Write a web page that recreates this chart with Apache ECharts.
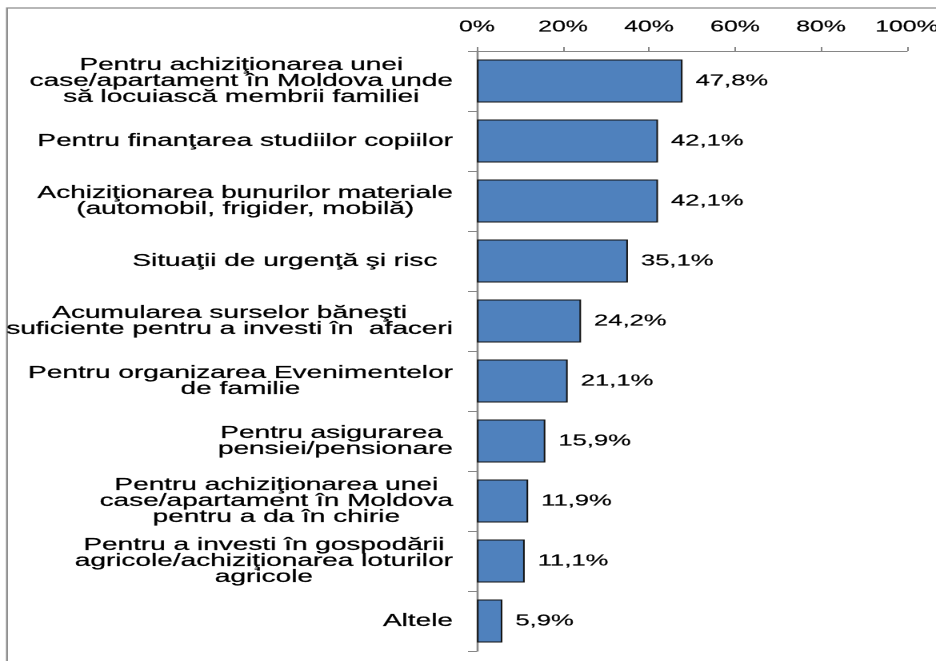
<!DOCTYPE html>
<html>
<head>
<meta charset="utf-8">
<script src="https://cdn.jsdelivr.net/npm/echarts@6/dist/echarts.min.js"></script>
<style>
  html, body { margin: 0; padding: 0; background: #ffffff; overflow: hidden; }
  #wrap { width: 936px; height: 661px; overflow: hidden; position: relative; }
  #main { width: 585px; height: 661px; transform: scaleX(1.6); transform-origin: 0 0; position: absolute; left: 0; top: 0; }
</style>
</head>
<body>
<div id="wrap"><div id="main"></div></div>
<script>
const categories = [
  'Pentru achiziţionarea unei\ncase/apartament în Moldova unde\nsă locuiască membrii familiei',
  'Pentru finanţarea studiilor copiilor',
  'Achiziţionarea bunurilor materiale\n(automobil, frigider, mobilă)',
  'Situaţii de urgenţă şi risc  ',
  'Acumularea surselor băneşti\nsuficiente pentru a investi în  afaceri',
  'Pentru organizarea Evenimentelor\nde familie',
  'Pentru asigurarea \npensiei/pensionare',
  'Pentru achiziţionarea unei\ncase/apartament în Moldova\npentru a da în chirie',
  'Pentru a investi în gospodării\nagricole/achiziţionarea loturilor\nagricole',
  'Altele'
];
const values = [47.8, 42.1, 42.1, 35.1, 24.2, 21.1, 15.9, 11.9, 11.1, 5.9];
const xTicks = [0, 20, 40, 60, 80, 100];

const S = 1.6; // horizontal stretch of the original picture
const FONT = "'Liberation Sans', Arial, sans-serif";
const chart = echarts.init(document.getElementById('main'), null, { renderer: 'canvas', devicePixelRatio: 2 });

chart.setOption({
  animation: false,
  backgroundColor: '#ffffff',
  graphic: [{
    type: 'rect',
    shape: { x: 7 / S, y: 8, width: 3000, height: 3000 },
    style: { fill: 'none', stroke: '#8c8c8c', lineWidth: 1.2 },
    silent: true
  }],
  grid: {
    left: 477 / S, right: 585 - 907 / S, top: 51, bottom: 10,
    containLabel: false, outerBoundsMode: 'none'
  },
  xAxis: {
    type: 'value',
    position: 'top',
    min: xTicks[0],
    max: xTicks[xTicks.length - 1],
    interval: xTicks[1] - xTicks[0],
    axisLine: { show: true, lineStyle: { color: '#868686', width: 1 } },
    axisTick: { show: true, length: 4, lineStyle: { color: '#868686' } },
    splitLine: { show: false },
    axisLabel: {
      color: '#000', fontSize: 15.5, fontFamily: FONT, margin: 16,
      textBorderColor: '#000', textBorderWidth: 0.2,
      formatter: v => v + '%'
    }
  },
  yAxis: {
    type: 'category',
    inverse: true,
    data: categories,
    axisLine: { show: true, lineStyle: { color: '#868686', width: 1.3 } },
    axisTick: { show: true, length: 9 / S, alignWithLabel: false, lineStyle: { color: '#868686' } },
    splitLine: { show: false },
    axisLabel: {
      interval: 0,
      align: 'right',
      margin: 24 / S,
      formatter: v => v.split('\n').map(l => '{c|' + l + '}').join('\n'),
      rich: {
        c: {
          align: 'center', fontSize: 17.5, lineHeight: 16, fontFamily: FONT, color: '#000',
          textBorderColor: '#000', textBorderWidth: 0.25
        }
      }
    }
  },
  series: [{
    type: 'bar',
    data: values,
    barWidth: 43,
    itemStyle: { color: '#4F81BD', borderColor: '#111', borderWidth: 1 },
    label: {
      show: true,
      position: 'right',
      distance: 13 / S,
      color: '#000',
      fontSize: 16,
      fontFamily: FONT,
      textBorderColor: '#000', textBorderWidth: 0.2,
      formatter: p => p.value.toFixed(1).replace('.', ',') + '%'
    }
  }]
});
</script>
</body>
</html>
